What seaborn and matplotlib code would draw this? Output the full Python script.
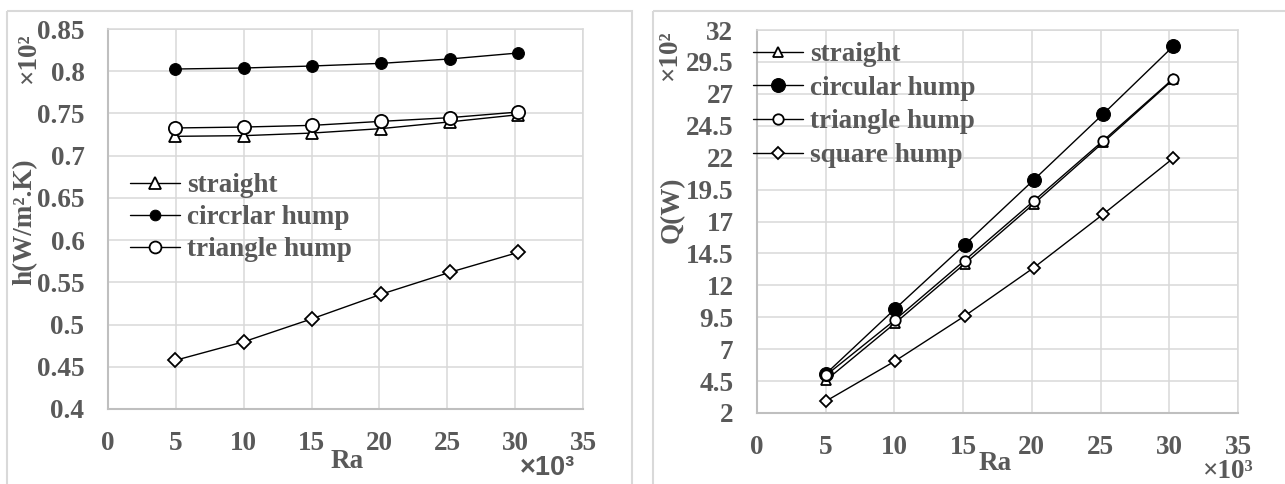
import matplotlib
matplotlib.use("Agg")
import matplotlib.pyplot as plt
import seaborn as sns
import numpy as np
import pandas as pd
from matplotlib.patches import Rectangle

# ---------------- data ----------------
ra_h = [4.95, 10.02, 15.06, 20.1, 25.17, 30.24]
h_straight = [0.7229, 0.7237, 0.7268, 0.732, 0.740, 0.7485]
h_circular = [0.8026, 0.8038, 0.8062, 0.8093, 0.8145, 0.8216]
h_triangle = [0.7328, 0.7339, 0.7359, 0.7406, 0.745, 0.7517]
h_square = [0.4576, 0.4797, 0.507, 0.5358, 0.5618, 0.5855]

ra_q = [5.03, 10.03, 15.1, 20.15, 25.2, 30.3]
q_straight = [4.57, 9.02, 13.68, 18.39, 23.2, 28.13]
q_circular = [5.09, 10.14, 15.17, 20.27, 25.43, 30.74]
q_triangle = [4.96, 9.28, 13.94, 18.62, 23.34, 28.2]
q_square = [2.94, 6.06, 9.59, 13.39, 17.58, 21.97]

x_ticks = [0, 5, 10, 15, 20, 25, 30, 35]
h_ticks = [0.4, 0.45, 0.5, 0.55, 0.6, 0.65, 0.7, 0.75, 0.8, 0.85]
h_tick_labels = ["0.4", "0.45", "0.5", "0.55", "0.6", "0.65", "0.7", "0.75", "0.8", "0.85"]
q_ticks = [2, 4.5, 7, 9.5, 12, 14.5, 17, 19.5, 22, 24.5, 27, 29.5, 32]
q_tick_labels = ["2", "4.5", "7", "9.5", "12", "14.5", "17", "19.5", "22", "24.5", "27", "29.5", "32"]

left_labels = ["straight", "circrlar hump", "triangle hump"]
right_labels = ["straight", "circular hump", "triangle hump", "square hump"]

# ---------------- style ----------------
sns.set_theme(style="white")
plt.rcParams['font.family'] = ['Liberation Serif', 'DejaVu Serif']
plt.rcParams['font.weight'] = 'bold'
TXT = '#595959'
GRID = '#d9d9d9'
FS = 19.5

W, H = 1285, 484
fig = plt.figure(figsize=(W / 100, H / 100), dpi=100)

def px(x, y):
    return x / W, 1 - y / H

# panel borders
fig.patches.append(Rectangle(px(7, 11), (632 - 7) / W, -(H + 20 - 11) / H,
                             transform=fig.transFigure, fill=False, ec=GRID, lw=1.5))
fig.patches.append(Rectangle(px(653, 11), (W + 20 - 653) / W, -(H + 20 - 11) / H,
                             transform=fig.transFigure, fill=False, ec=GRID, lw=1.5))

ax1 = fig.add_axes([108 / W, 1 - 409 / H, (583 - 108) / W, (409 - 29) / H])
ax2 = fig.add_axes([757 / W, 1 - 413 / H, (1238 - 757) / W, (413 - 30) / H])

def style_axes(ax, yticks, ylabels, ylim):
    ax.set_xlim(0, 35)
    ax.set_ylim(*ylim)
    ax.set_xticks(x_ticks)
    ax.set_xticklabels([str(v) for v in x_ticks])
    ax.set_yticks(yticks)
    ax.set_yticklabels(ylabels)
    ax.grid(True, color=GRID, lw=1.1)
    ax.set_axisbelow(True)
    for s in ax.spines.values():
        s.set_color(GRID)
        s.set_linewidth(1.1)
    ax.spines['left'].set_color('#bfbfbf')
    ax.spines['bottom'].set_color('#bfbfbf')
    ax.spines['left'].set_linewidth(1.5)
    ax.spines['bottom'].set_linewidth(1.5)
    ax.tick_params(axis='both', length=0, labelsize=FS, labelcolor=TXT)
    ax.tick_params(axis='y', pad=17)
    ax.tick_params(axis='x', pad=16)
    for t in ax.get_xticklabels() + ax.get_yticklabels():
        t.set_fontweight('bold')
    ax.set_xlabel('')
    ax.set_ylabel('')

# ---------------- left chart ----------------
sns.lineplot(x=ra_h, y=h_straight, ax=ax1, color='black', lw=1.0, marker='^', markersize=9,
             markerfacecolor='white', markeredgecolor='black', markeredgewidth=1.3, label=left_labels[0])
sns.lineplot(x=ra_h, y=h_circular, ax=ax1, color='black', lw=1.0, marker='o', markersize=8.5,
             markerfacecolor='black', markeredgecolor='black', label=left_labels[1])
sns.lineplot(x=ra_h, y=h_triangle, ax=ax1, color='black', lw=1.0, marker='o', markersize=9.5,
             markerfacecolor='white', markeredgecolor='black', markeredgewidth=1.3, label=left_labels[2])
sns.lineplot(x=ra_h, y=h_square, ax=ax1, color='black', lw=1.0, marker='D', markersize=7,
             markerfacecolor='white', markeredgecolor='black', markeredgewidth=1.3, legend=False)
style_axes(ax1, h_ticks, h_tick_labels, (0.4, 0.85))
leg1 = ax1.legend(loc='upper left', bbox_to_anchor=px(130, 173), bbox_transform=fig.transFigure,
                  frameon=False, fontsize=FS, handlelength=1.85, handletextpad=0.27,
                  labelspacing=0.26, borderpad=0, borderaxespad=0, markerscale=0.9)
for t in leg1.get_texts():
    t.set_color(TXT)
    t.set_fontweight('bold')

# ---------------- right chart ----------------
sns.lineplot(x=ra_q, y=q_straight, ax=ax2, color='black', lw=1.0, marker='^', markersize=7,
             markerfacecolor='white', markeredgecolor='black', markeredgewidth=1.3, label=right_labels[0])
sns.lineplot(x=ra_q, y=q_circular, ax=ax2, color='black', lw=1.0, marker='o', markersize=10,
             markerfacecolor='black', markeredgecolor='black', label=right_labels[1])
sns.lineplot(x=ra_q, y=q_triangle, ax=ax2, color='black', lw=1.0, marker='o', markersize=7.5,
             markerfacecolor='white', markeredgecolor='black', markeredgewidth=1.3, label=right_labels[2])
sns.lineplot(x=ra_q, y=q_square, ax=ax2, color='black', lw=1.0, marker='D', markersize=6.5,
             markerfacecolor='white', markeredgecolor='black', markeredgewidth=1.3, label=right_labels[3])
style_axes(ax2, q_ticks, q_tick_labels, (2, 32))
leg2 = ax2.legend(loc='upper left', bbox_to_anchor=px(753, 42), bbox_transform=fig.transFigure,
                  frameon=False, fontsize=FS, handlelength=1.85, handletextpad=0.25,
                  labelspacing=0.32, borderpad=0, borderaxespad=0)
for t in leg2.get_texts():
    t.set_color(TXT)
    t.set_fontweight('bold')

# ---------------- texts ----------------
def ftext(x, y, s, **kw):
    fig.text(*px(x, y), s, color=TXT, fontsize=FS, fontweight='bold', ha='center', va='center', **kw)

ftext(25, 222, 'h(W/m².K)', rotation=90)
ftext(28, 58, '×10²', rotation=90)
ftext(347, 462, 'Ra')
ftext(547, 468, '×10³', family=['Liberation Sans', 'DejaVu Sans'])

ftext(672, 210, 'Q(W)', rotation=90)
ftext(669, 55, '×10²', rotation=90)
ftext(995, 464, 'Ra')
ftext(1228, 471, '×10³')

fig.savefig('out.png', dpi=100)
